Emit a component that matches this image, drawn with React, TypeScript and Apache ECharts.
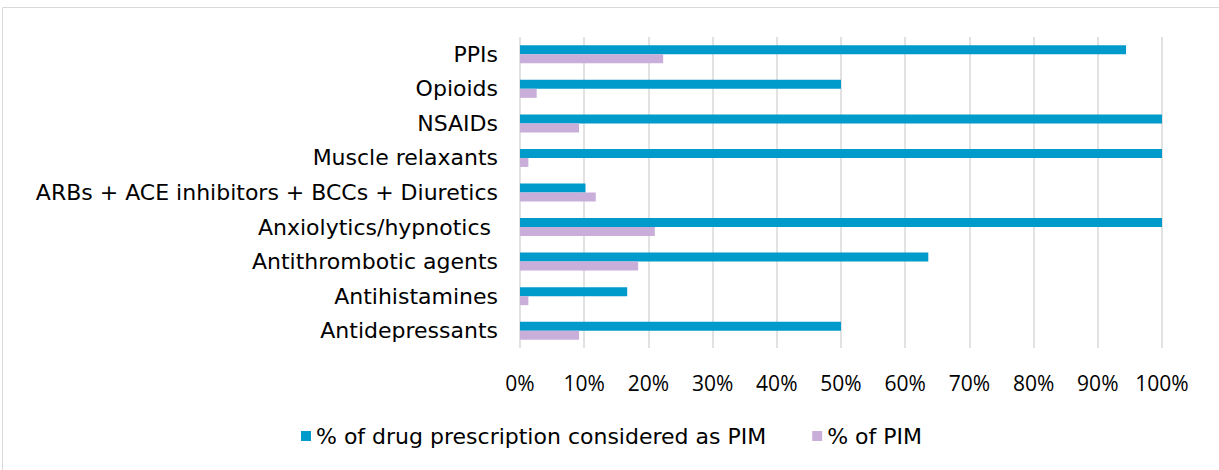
import React, { useEffect, useRef } from "react";
import * as echarts from "echarts";

const categories = [
  "Antidepressants",
  "Antihistamines",
  "Antithrombotic agents",
  "Anxiolytics/hypnotics ",
  "ARBs + ACE inhibitors + BCCs + Diuretics",
  "Muscle relaxants",
  "NSAIDs",
  "Opioids",
  "PPIs",
];
const seriesNames = ["% of drug prescription considered as PIM", "% of PIM"];
const prescriptionPIM = [50, 16.7, 63.6, 100, 10.2, 100, 100, 50, 94.4];
const pctOfPIM = [9.2, 1.3, 18.4, 21.0, 11.8, 1.3, 9.2, 2.6, 22.3];
const xTicks = { min: 0, max: 100, interval: 10 };

const FONT = "'DejaVu Sans', sans-serif";
const FS = 22;
const TICK_FONT = "'Open Sans', sans-serif";

export default function App() {
  const ref = useRef<HTMLDivElement>(null);
  useEffect(() => {
    if (!ref.current) return;
    const chart = echarts.init(ref.current, undefined, { renderer: "svg" });
    chart.setOption({
      animation: false,
      graphic: [
        {
          type: "rect",
          shape: { x: 2.5, y: 7.5, width: 1230, height: 470 },
          style: { fill: "none", stroke: "#d9d9d9", lineWidth: 1 },
          silent: true,
        },
      ],
      grid: { left: 520, right: 57, top: 37, bottom: 122, containLabel: false },
      legend: {
        bottom: 18,
        left: 296,
        itemWidth: 10,
        itemHeight: 10,
        itemGap: 46,
        icon: "rect",
        textStyle: { fontFamily: FONT, fontSize: FS, color: "#000" },
        data: seriesNames,
      },
      xAxis: {
        type: "value",
        min: xTicks.min,
        max: xTicks.max,
        interval: xTicks.interval,
        axisLine: { show: false },
        axisTick: { show: false },
        splitLine: { show: true, lineStyle: { color: "#d9d9d9", width: 1.5 } },
        axisLabel: {
          formatter: "{value}%",
          fontFamily: TICK_FONT,
          fontSize: 21,
          color: "#000",
          margin: 24,
        },
      },
      yAxis: {
        type: "category",
        data: categories,
        axisLine: { show: false },
        axisTick: { show: false },
        axisLabel: { fontFamily: FONT, fontSize: FS, color: "#000", margin: 22, padding: [4, 0, 0, 0] },
      },
      series: [
        {
          name: seriesNames[0],
          type: "bar",
          data: prescriptionPIM,
          barWidth: 9,
          barGap: "0%",
          itemStyle: { color: "#009BCB" },
        },
        {
          name: seriesNames[1],
          type: "bar",
          data: pctOfPIM,
          barWidth: 9,
          itemStyle: { color: "#C9AED9" },
        },
      ],
    });
    return () => chart.dispose();
  }, []);
  return (
    <div
      ref={ref}
      style={{ position: "fixed", left: 0, top: 0, width: 1219, height: 470, background: "#fff" }}
    />
  );
}
